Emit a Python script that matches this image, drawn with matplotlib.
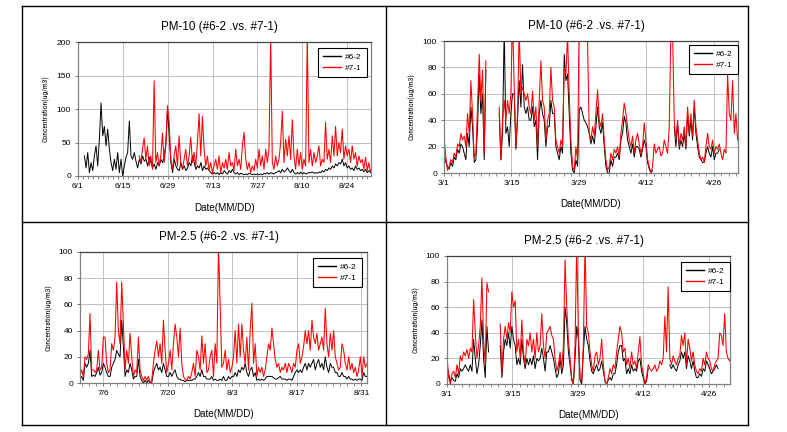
import numpy as np
import pandas as pd
import matplotlib
matplotlib.use('Agg')
import matplotlib.pyplot as plt
import matplotlib.dates as mdates
from matplotlib.lines import Line2D
from matplotlib.ticker import MultipleLocator, FixedLocator, FixedFormatter
from matplotlib import font_manager as fm

plt.rcParams['font.family'] = ['Liberation Sans', 'DejaVu Sans']

# y label in the original is a squeezed font: use a narrow family if there is one
narrow, narrow_size = 'Liberation Sans', 5.4
for fam, size in [('Liberation Sans Narrow', 5.9), ('Roboto Condensed', 5.5),
                  ('Open Sans Condensed', 5.6)]:
    try:
        fm.findfont(fam, fallback_to_default=False)
        narrow, narrow_size = fam, size
        break
    except ValueError:
        pass

nan = np.nan

# ---- PM-10 summer (6/1 ~ 8/31), readings spread evenly between start and end
p1_black_span = ('2007-06-03 00:00', '2007-08-31 19:00')
p1_black = [30, 12, 35, 5, 20, 8, 30, 45, 15, 55,
            109, 60, 74, 45, 70, 40, 20, 8, 25, 10,
            35, 5, 25, 0, 15, 28, 35, 82, 30, 25,
            35, 22, 12, 25, 18, 30, 22, 25, 15, 28,
            20, 12, 18, 10, 20, 15, 25, 20, 30, 50,
            100, 60, 20, 5, 25, 15, 10, 8, 20, 10,
            15, 8, 12, 20, 15, 30, 20, 10, 15, 12,
            20, 8, 15, 10, 12, 8, 5, 3, 5, 3,
            5, 2, 5, 3, 8,
            5, 3, 8, 5, 10, 5, 3, 5, 2, 4,
            3, 2, 3, 2, 4, 3, 2, 3, 2, 3,
            2, 3, 2, 4, 3, 5, 3, 5, 4, 3,
            5, 6, 8, 5, 10, 6, 8, 12, 8, 5,
            10, 5, 3, 5, 3, 6, 3, 5, 3, 4,
            5, 5, 6, 4, 5, 4, 6, 5, 8, 6,
            10, 8, 12, 10, 15, 12, 18, 15, 20, 18,
            25, 15, 20, 12, 15, 10, 12, 8, 15, 10,
            12, 8, 10, 6, 10, 5, 8, 5, 8]
p1_red_span = ('2007-06-20 02:00', '2007-08-31 19:00')
p1_red = [30, 20, 40, 57, 25, 45, 15, 30, 10, 142,
          20, 35, 15, 30, 64, 20, 45, 105, 80, 25,
          10, 30, 45, 15, 60, 20, 10, 25, 40, 15,
          30, 58, 20, 35, 15, 50, 93, 30, 89, 40,
          15, 30, 8, 20, 5, 15, 25, 10, 30, 5,
          20, 12,
          25, 10, 35, 15, 20, 8, 40, 15, 25, 10,
          45, 65, 25, 10, 20, 5, 15, 8, 25, 12,
          40, 15, 30, 10, 40, 20, 40, 210, 20, 10,
          30, 15, 25, 50, 97, 20, 55, 30, 60, 25,
          84, 30, 10, 40, 15, 35, 10, 25, 15, 210,
          20, 40, 15, 35, 20, 30, 45, 15, 25, 20,
          80, 25, 40, 20, 60, 30, 74, 30, 50, 35,
          70, 25, 45, 30, 40, 20, 45, 25, 35, 15,
          30, 20, 25, 10, 28, 8, 20, 5, 15]

# ---- PM-10 spring (3/1 ~ 4/30)
p2_span = ('2007-03-01 01:00', '2007-04-30 22:00')
p2_black = [15, 8, 5, 3, 8, 5, 12, 10, 18, 15, 22, 20, 15, 10, 30, 20, 50, 35, 8, 10,
            35, 75, 45, 60, 10, 78,
            nan, nan, nan, nan, nan, nan, nan,
            45, 10, 30, 110, 30, 35, 20, 45, 60, 60,
            18, 40, 70, 50, 82, 50, 45, 50, 40, 40,
            50, 35, 40, 10, 45, 55, 45, 40, 20, 35,
            35, 55, 45, 45, 20, 15, 10, 20, 15, 90,
            70, 75, 45, 15, 2, 0, 10, 5, 48, 50,
            45, 40,
            38, 35, 30, 22, 28, 22, 35, 50, 35, 30,
            38, 20, 5, 0, 0, 10, 5, 12, 12, 15,
            10, 25, 30, 43, 38, 25, 20, 15, 22, 12,
            20, 20, 18, 12, 18, 25, 20, 8, 3, 0,
            2, nan, nan, nan, nan, nan, nan, nan, nan, nan,
            nan, nan, nan, 35, 20, 38, 18, 25, 20, 30,
            18, 45, 28, 40, 25, 50, 30, 20, 12, 10,
            8, 8, 15, 20, 15, 12, 20, 10, 15, 15,
            18, nan, nan, nan, nan, nan, nan, nan, nan, nan,
            nan, nan]
p2_red = [25, 12, 2, 5, 10, 8, 15, 12, 22, 20, 30, 25, 28, 20, 45, 30, 70, 45, 12, 15,
          50, 90, 55, 78, 15, 85,
          nan, nan, nan, nan, nan, nan, nan,
          50, 10, 40, 55, 40, 55, 45, 60, 120, 65,
          20, 45, 110, 60, 65, 60, 55, 60, 50, 45,
          62, 40, 50, 20, 55, 85, 55, 50, 25, 40,
          45, 80, 55, 50, 25, 20, 15, 25, 20, 80,
          75, 105, 60, 25, 5, 2, 20, 10, 120, nan,
          nan, nan,
          110, 100, 30, 25, 35, 28, 45, 63, 40, 35,
          45, 25, 10, 2, 5, 15, 10, 18, 15, 20,
          12, 30, 40, 53, 45, 35, 25, 20, 28, 15,
          25, 30, 22, 15, 20, 38, 25, 10, 5, 0,
          5, 22, 15, 18, 20, 13, 15, 25, 20, 15,
          35, 110, 105, 40, 25, 40, 20, 30, 25, 35,
          20, 50, 30, 45, 28, 55, 35, 25, 15, 10,
          12, 8, 20, 30, 20, 18, 25, 15, 20, 18,
          22, 15, 10, 18, 15, 75, 45, 40, 70, 30,
          45, 25]

# ---- PM-2.5 summer (7/1 ~ 9/1)
p3_span = ('2007-07-01 00:00', '2007-09-01 05:00')
p3_black = [3, 5, 2, 15, 12, 15, 25, 5, 6, 5,
            8, 12, 6, 8, 15, 12, 8, 5, 5, 12,
            15, 18, 25, 22, 20, 48, 28, 5, 10, 8,
            15, 10, 3, 5, 5, 18, 5, 2, 0, 2,
            0, 2, 0, 0, 8, 12, 15, 10, 12, 8,
            15, 10, 5, 5, 8, 5, 8, 10, 5, 3,
            3, 2, 2, 1, 2, 2, 2, 2, 3, 3,
            5, 8, 5, 10, 5, 5, 3, 3, 3, 5,
            2, 3, 2, 2, 3,
            2, 5, 2, 2, 5, 3, 5, 5, 8, 5,
            10, 8, 12, 10, 15, 8, 5, 10, 12, 5,
            8, 2, 3, 2, 3, 2, 3, 5, 5, 5,
            5, 4, 3, 3, 4, 5, 3, 3, 3, 2,
            3, 3, 2, 5, 8, 10, 8, 10, 8, 12,
            15, 10, 15, 12, 15, 18, 10, 15, 18, 12,
            15, 10, 20, 12, 8, 15, 12, 12, 8, 8,
            5, 5, 8, 5, 5, 3, 5, 3, 3, 2,
            3, 2, 3, 3, 2, 8, 5, 5]
p3_red = [5, 10, 5, 20, 18, 22, 53, 10, 10, 8,
          10, 25, 10, 12, 35, 35, 15, 8, 10, 30,
          25, 35, 77, 40, 30, 77, 45, 10, 25, 15,
          38, 20, 5, 10, 8, 35, 10, 5, 2, 5,
          2, 5, 0, 2, 15, 25, 32, 20, 30, 15,
          48, 25, 8, 15, 25, 10, 30, 45, 35, 20,
          42, 15, 5, 3, 2, 5, 3, 8, 15, 5,
          25, 20, 10, 36, 15, 30, 8, 10, 20, 25,
          5, 30, 15, 105, 60,
          12, 15, 25, 10, 18, 8, 12, 20, 40, 15,
          45, 20, 45, 25, 15, 35, 10, 40, 61, 15,
          30, 5, 12, 8, 12, 5, 10, 20, 30, 25,
          42, 30, 18, 12, 15, 8, 12, 10, 15, 8,
          15, 12, 8, 15, 12, 25, 30, 15, 20, 28,
          40, 30, 40, 25, 48, 35, 30, 38, 25, 30,
          35, 25, 57, 30, 20, 38, 25, 40, 20, 15,
          10, 12, 30, 25, 15, 10, 20, 10, 15, 8,
          12, 5, 10, 20, 5, 20, 12, 15]

# ---- PM-2.5 spring (3/1 ~ 4/30)
p4_span = ('2007-03-01 00:00', '2007-04-30 19:00')
p4_black = [15, 8, 2, 5, 3, 2, 8, 5, 12, 10,
            12, 15, 12, 10, 15, 10, 35, 20, 8, 15,
            30, 50, 20, 5, 45, 25,
            nan, nan, nan, nan, nan, nan,
            30, 5, 25, 35, 30, 40, 28, 45, 35, 30,
            15, 20, 15, 35, 20, 12, 20, 15, 20, 15,
            22, 12, 20, 18, 20, 28, 20, 10, 25, 25,
            30, 25, 20, 12, 5, 8, 20, 8, 15, 60,
            48, 25, 15, 3, 0, 20, 45, 35, 3, 0,
            25, 45, 35,
            30, 18, 10, 8, 12, 15, 10, 12, 18, 10,
            2, 0, 3, 5, 3, 8, 8, 15, 25, 30,
            30, 18, 20, 8, 12, 8, 15, 10, 12, 10,
            18, 20, 10, 5, 0, 2, 12, nan, nan, nan,
            nan, nan, nan, nan, nan, nan, nan, nan, nan, 15,
            12, 15, 12, 10, 15, 18, 25, 20, 25, 12,
            22, 18, 12, 18, 10, 5, 5, 8, 6, 12,
            10, 18, 15, 12, 8, 10, 12, 15, 12, nan,
            nan, nan, nan, nan, nan, nan, nan]
p4_red = [22, 5, 0, 8, 10, 5, 15, 8, 22, 18,
          25, 22, 27, 20, 28, 25, 66, 40, 20, 30,
          45, 83, 35, 15, 79, 72,
          nan, nan, nan, nan, nan, nan,
          47, 8, 35, 45, 35, 48, 40, 72, 60, 65,
          25, 35, 20, 50, 25, 15, 35, 30, 40, 25,
          35, 20, 40, 25, 30, 55, 30, 20, 40, 42,
          45, 38, 35, 20, 10, 15, 25, 12, 30, 97,
          60, 35, 20, 5, 0, 30, 110, 40, 5, 2,
          30, 110, 45,
          40, 25, 15, 10, 22, 25, 15, 20, 35, 15,
          2, 0, 5, 12, 8, 15, 12, 25, 35, 45,
          40, 25, 28, 15, 20, 12, 25, 15, 18, 12,
          25, 37, 15, 8, 0, 5, 15, 12, 10, 12,
          15, 10, 12, 18, 15, 20, 53, 25, 76, 20,
          15, 22, 18, 15, 20, 22, 38, 30, 40, 15,
          35, 28, 18, 25, 15, 10, 8, 12, 10, 20,
          15, 25, 20, 18, 12, 10, 15, 18, 20, 40,
          38, 30, 55, 25, 20, 18, 22]

spring_ticks = ['2007-03-01', '2007-03-15', '2007-03-29', '2007-04-12', '2007-04-26']
spring_labels = ['3/1', '3/15', '3/29', '4/12', '4/26']
p1_ticks = ['2007-06-01', '2007-06-15', '2007-06-29', '2007-07-13', '2007-07-27', '2007-08-10', '2007-08-24']
p1_labels = ['6/1', '6/15', '6/29', '7/13', '7/27', '8/10', '8/24']
p3_ticks = ['2007-07-06', '2007-07-20', '2007-08-03', '2007-08-17', '2007-08-31']
p3_labels = ['7/6', '7/20', '8/3', '8/17', '8/31']

series_names = ['#6-2', '#7-1']
titles = ['PM-10 (#6-2 .vs. #7-1)', 'PM-2.5 (#6-2 .vs. #7-1)']

W, H = 787, 432
fig = plt.figure(figsize=(W / 100, H / 100), dpi=100)


def px_rect(x0, y0, x1, y1):
    return [x0 / W, 1 - y1 / H, (x1 - x0) / W, (y1 - y0) / H]


def draw_panel(rect, title, black, black_span, red, red_span, xlim, ticks, labels,
               ymax, ystep, leg_anchor):
    ax = fig.add_axes(rect)
    tb = pd.date_range(black_span[0], black_span[1], periods=len(black))
    tr = pd.date_range(red_span[0], red_span[1], periods=len(red))
    ax.plot(tb, black, color='black', lw=0.7, label=series_names[0])
    ax.plot(tr, red, color='#ff0000', lw=0.75, label=series_names[1])
    ax.set_xlim(pd.Timestamp(xlim[0]), pd.Timestamp(xlim[1]))
    ax.set_ylim(0, ymax)
    tick_nums = mdates.date2num(pd.to_datetime(ticks))
    ax.xaxis.set_major_locator(FixedLocator(tick_nums))
    ax.xaxis.set_major_formatter(FixedFormatter(labels))
    ax.xaxis.set_minor_locator(MultipleLocator(14 / 9, offset=tick_nums[0]))
    ax.yaxis.set_major_locator(MultipleLocator(ystep))
    ax.grid(True, which='major', color='#c0c0c0', lw=0.7)
    ax.set_axisbelow(True)
    for s in ax.spines.values():
        s.set_color('#808080')
        s.set_linewidth(0.9)
    ax.spines['top'].set_color('#404040')
    ax.tick_params(axis='both', which='major', direction='out', length=2.5, width=0.6,
                   labelsize=6, pad=2.5, color='#606060')
    ax.tick_params(axis='x', which='minor', direction='out', length=2, width=0.5, color='#606060')
    ax.set_title(title, fontsize=8.4, pad=8.5, x=0.484)
    ax.set_xlabel('Date(MM/DD)', fontsize=7.1, va='top')
    ax.xaxis.set_label_coords(0.5, -0.2)
    ax.set_ylabel('Concentration(ug/m3)', fontsize=narrow_size, family=narrow)
    ax.yaxis.set_label_coords(-0.097, 0.5)
    leg = ax.legend(loc='upper right', bbox_to_anchor=leg_anchor, borderaxespad=0,
                    fontsize=6, frameon=True, fancybox=False, framealpha=1,
                    handlelength=2.2, handletextpad=0.5, borderpad=0.6, labelspacing=0.4)
    leg.get_frame().set_edgecolor('black')
    leg.get_frame().set_linewidth(0.8)
    for h in leg.get_lines():
        h.set_linewidth(1.0)
    return ax


draw_panel(px_rect(78, 42, 371, 176), titles[0], p1_black, p1_black_span, p1_red, p1_red_span,
           ('2007-06-01', '2007-08-31 10:00'), p1_ticks, p1_labels, 200, 50, (0.986, 0.955))
draw_panel(px_rect(444, 41, 738, 173), titles[0], p2_black, p2_span, p2_red, p2_span,
           ('2007-03-01', '2007-05-01'), spring_ticks, spring_labels, 100, 20, (1.0, 0.97))
draw_panel(px_rect(80, 252, 367, 383), titles[1], p3_black, p3_span, p3_red, p3_span,
           ('2007-07-01', '2007-09-01 05:00'), p3_ticks, p3_labels, 100, 20, (0.983, 0.954))
draw_panel(px_rect(447, 256, 730, 384), titles[1], p4_black, p4_span, p4_red, p4_span,
           ('2007-03-01', '2007-04-30 12:00'), spring_ticks, spring_labels, 100, 20, (1.0, 0.953))

# table frame around the four charts
frame = [((22, 6), (748, 6)), ((22, 222), (748, 222)), ((22, 425), (748, 425)),
         ((22, 6), (22, 425)), ((386, 6), (386, 425)), ((748, 6), (748, 425))]
for (x0, y0), (x1, y1) in frame:
    fig.add_artist(Line2D([x0 / W, x1 / W], [1 - y0 / H, 1 - y1 / H],
                          transform=fig.transFigure, color='black', lw=1.0))

fig.savefig('out.png', dpi=100)
